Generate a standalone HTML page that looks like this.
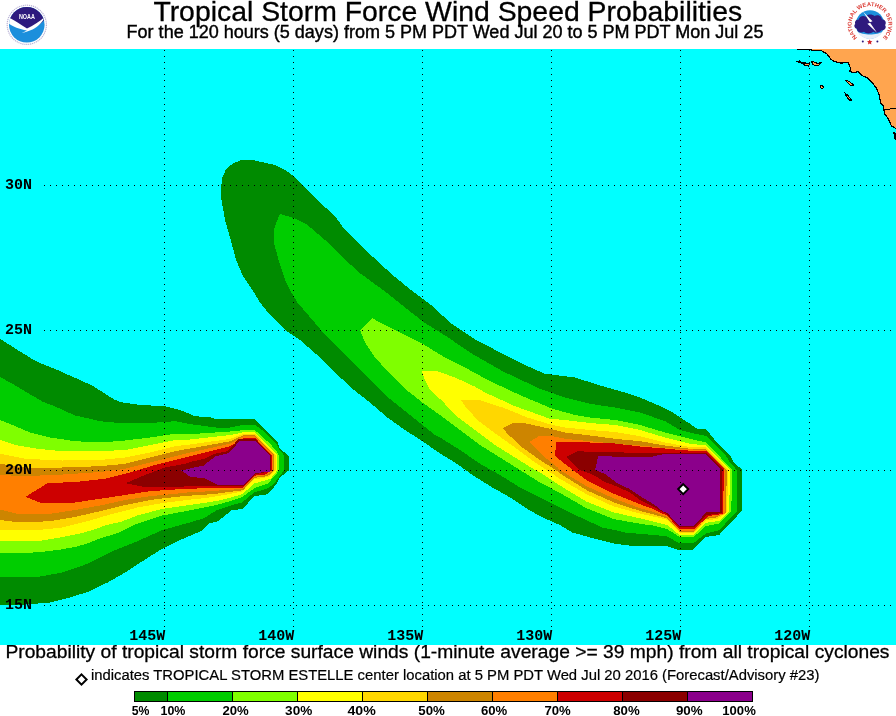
<!DOCTYPE html>
<html lang="en">
<head>
<meta charset="utf-8">
<title>Tropical Storm Force Wind Speed Probabilities</title>
<style>
html,body{margin:0;padding:0;background:#fff;}
body{width:896px;height:716px;position:relative;overflow:hidden;font-family:"Liberation Sans",sans-serif;color:#000;}
.t{position:absolute;white-space:nowrap;line-height:1;margin:0;}
.tx{font-family:"Liberation Sans",sans-serif;fill:#000;}
#g{position:absolute;left:0;top:0;}
.ax{font-family:"Liberation Mono",monospace;font-weight:bold;font-size:15px;}
.lg{font-family:"Liberation Sans",sans-serif;font-weight:bold;font-size:12px;}
</style>
</head>
<body>
<svg id="g" width="896" height="716" viewBox="0 0 896 716">
<text class="tx" x="153.4" y="20.9" font-size="28.38" stroke="#000" stroke-width="0.3">Tropical Storm Force Wind Speed Probabilities</text>
<text class="tx" x="126.6" y="37.9" font-size="18.03" stroke="#000" stroke-width="0.4">For the 120 hours (5 days) from 5 PM PDT Wed Jul 20 to 5 PM PDT Mon Jul 25</text>
<text class="tx" x="5.4" y="658" font-size="19.24" stroke="#000" stroke-width="0.3">Probability of tropical storm force surface winds (1-minute average &gt;= 39 mph) from all tropical cyclones</text>
<text class="tx" x="90.9" y="679.9" font-size="14.83" stroke="#000" stroke-width="0.2">indicates TROPICAL STORM ESTELLE center location at 5 PM PDT Wed Jul 20 2016 (Forecast/Advisory #23)</text>
<rect x="0" y="49" width="896" height="596" fill="#00FFFF" shape-rendering="crispEdges"/>
<clipPath id="mapclip"><rect x="0" y="49" width="896" height="596"/></clipPath>
<g shape-rendering="crispEdges" clip-path="url(#mapclip)">
<polygon fill="#008B00" points="-5.0,336.0 0.0,338.8 16.0,349.0 33.5,359.8 40.2,363.2 53.6,368.3 67.0,374.3 80.5,380.1 93.9,386.6 107.3,395.1 114.0,399.4 120.0,402.0 140.0,405.0 165.0,406.2 180.0,410.0 190.0,414.1 194.0,416.1 210.1,417.4 216.8,419.2 255.0,419.2 265.0,429.0 277.2,441.6 279.8,448.3 288.8,456.3 288.8,470.4 279.8,477.5 275.8,484.9 267.8,494.2 254.4,496.3 242.3,509.0 231.6,510.3 218.2,521.1 208.8,523.7 202.1,530.5 190.0,535.8 180.0,540.0 160.0,550.0 142.5,561.2 125.0,572.5 107.5,582.5 90.0,591.2 70.0,597.5 50.0,602.5 25.0,604.5 -5.0,604.5"/>
<polygon fill="#00CD00" points="-5.0,374.5 0.0,377.0 13.4,384.4 26.8,392.4 42.9,401.8 53.6,405.8 75.0,415.5 80.0,416.5 100.0,421.2 120.0,423.0 150.0,423.0 175.0,421.2 190.0,424.1 216.0,427.5 230.2,427.5 243.6,424.8 255.0,424.8 265.1,432.2 275.8,442.9 278.5,448.3 283.9,455.0 283.9,470.4 279.2,476.8 273.1,484.9 266.4,488.9 254.4,492.2 242.3,502.3 230.2,505.6 216.8,510.3 203.4,518.4 190.0,522.4 162.5,530.0 137.5,541.2 112.5,551.2 87.5,563.8 62.5,572.5 37.5,577.0 -5.0,577.0"/>
<polygon fill="#7FFF00" points="-5.0,418.0 0.0,420.0 12.5,425.0 30.0,432.5 50.0,437.5 75.0,441.2 100.0,442.5 125.0,440.5 150.0,437.5 175.0,433.8 190.0,434.2 230.2,431.5 243.6,430.2 255.0,430.2 270.5,444.2 277.2,452.3 279.2,456.3 279.2,470.4 274.5,476.1 267.8,483.5 254.4,488.2 242.3,496.9 230.2,501.0 216.8,505.0 203.4,507.7 190.0,510.3 162.5,515.5 137.5,523.5 120.0,532.2 114.0,534.2 100.6,538.2 87.2,543.6 75.1,546.9 60.3,549.6 44.2,551.6 22.8,553.4 -5.0,553.4"/>
<polygon fill="#FFFF00" points="-5.0,438.0 0.0,440.0 15.0,445.0 37.5,448.8 62.5,451.2 100.0,451.2 125.0,450.0 150.0,445.0 175.0,440.0 190.0,439.5 230.2,435.1 243.6,432.2 255.0,432.2 275.8,453.0 277.4,456.3 277.4,470.4 270.5,478.8 254.4,483.5 242.3,494.2 230.2,497.6 216.8,501.0 203.4,503.0 190.0,505.0 162.5,508.8 137.5,515.5 120.0,522.1 107.3,524.8 93.9,529.5 80.5,533.5 69.7,535.5 56.3,538.2 41.6,540.6 -5.0,540.6"/>
<polygon fill="#FFD700" points="-5.0,452.0 0.0,453.8 25.0,458.8 62.5,460.5 100.0,460.0 125.0,457.5 150.0,452.5 175.0,446.2 190.0,444.5 230.2,438.9 243.6,433.8 255.0,433.8 275.5,455.0 275.5,470.4 269.1,476.8 254.4,479.5 242.3,491.6 216.8,496.3 203.4,498.3 190.0,499.6 162.5,503.0 137.5,507.5 112.5,513.8 87.5,521.2 62.5,527.5 37.5,530.0 -5.0,530.5"/>
<polygon fill="#CD8500" points="-5.0,462.5 0.0,463.8 25.0,467.5 62.5,467.5 100.0,466.2 125.0,463.8 150.0,457.5 175.0,451.2 190.0,448.5 230.2,441.3 243.6,435.1 255.0,435.1 274.2,455.0 274.2,470.4 267.8,476.1 254.4,477.9 243.0,490.2 216.8,493.6 203.4,494.9 190.0,495.6 175.0,497.0 150.0,500.0 125.0,505.0 100.0,511.2 75.0,517.0 50.0,521.2 20.0,522.5 0.0,520.0 -5.0,519.5"/>
<polygon fill="#FF7F00" points="-5.0,475.0 0.0,475.0 25.0,476.2 62.5,474.5 100.0,472.0 125.0,468.8 150.0,462.5 175.0,456.2 190.0,452.5 230.2,443.6 243.6,436.2 255.0,436.2 273.4,455.2 273.4,470.4 266.0,475.3 254.4,476.8 243.0,488.9 203.4,491.6 190.0,492.2 175.0,493.8 150.0,496.2 125.0,500.0 100.0,505.5 75.0,510.0 50.0,513.8 20.0,514.5 0.0,509.5 -5.0,508.0"/>
<polygon fill="#CD0000" points="25.5,496.8 47.5,483.2 75.0,482.0 105.0,478.8 130.0,472.5 155.0,465.0 180.0,458.8 190.0,456.3 205.0,452.5 230.2,446.3 243.6,437.9 255.0,437.9 272.0,455.4 272.0,470.4 265.0,474.5 254.4,475.7 243.0,487.5 203.4,488.2 190.0,488.9 175.0,489.5 150.0,491.2 125.0,495.0 100.0,498.8 75.0,502.5 40.0,502.5"/>
<polygon fill="#8B0000" points="125.8,483.2 140.0,477.0 155.0,471.2 165.0,467.5 185.0,463.8 190.0,462.0 203.4,459.0 215.5,453.6 228.0,451.0 238.5,438.9 255.0,438.9 271.1,455.5 271.1,471.0 255.0,474.4 243.0,486.2 190.0,486.2 175.0,487.0 145.0,487.0"/>
<polygon fill="#8B008B" points="181.5,470.5 190.0,468.4 203.4,465.7 215.5,456.3 228.9,453.0 239.6,440.9 255.0,440.9 269.8,455.6 269.8,471.7 255.0,473.1 243.0,485.1 218.2,485.1 210.1,480.8 203.4,477.8 196.7,477.5 190.0,476.8"/>
<polygon fill="#008B00" points="241.2,160.0 255.0,160.5 275.0,165.0 285.0,170.0 293.8,176.2 302.5,185.0 320.0,202.5 335.0,216.2 345.0,230.0 360.0,245.0 375.0,258.8 392.5,275.0 411.0,290.0 432.5,306.2 450.0,322.5 474.0,338.8 505.0,355.0 525.0,365.0 545.0,373.8 575.0,377.5 602.5,386.2 625.0,392.5 640.0,397.5 657.5,405.0 672.5,412.5 690.0,423.8 697.5,429.2 706.2,429.2 715.0,440.2 725.8,451.6 731.2,457.0 733.9,462.3 741.9,469.7 741.9,510.8 719.1,535.0 705.7,537.0 693.0,549.5 677.5,549.5 666.8,546.0 653.4,546.0 635.0,546.2 615.0,543.8 590.0,537.5 572.5,532.5 560.0,525.1 540.0,516.2 525.0,507.5 510.0,497.5 492.5,487.5 472.5,475.0 455.0,462.5 440.0,453.5 422.5,441.2 405.0,430.0 387.5,417.5 370.0,402.5 352.5,388.8 335.0,372.5 320.0,357.5 300.0,340.0 285.0,330.0 270.0,315.0 260.0,302.5 252.5,290.0 242.5,275.0 236.2,260.0 230.0,237.5 225.0,220.0 221.5,200.0 221.0,187.5 222.5,177.5 226.2,168.8 232.5,163.8"/>
<polygon fill="#00CD00" points="280.0,214.0 293.8,218.0 307.5,225.0 325.0,240.0 340.0,255.0 360.0,273.2 375.0,284.2 385.0,291.5 405.0,307.5 425.0,323.0 447.5,337.0 470.0,352.5 502.5,371.2 540.0,388.8 565.0,397.5 590.0,403.8 615.0,407.5 640.0,412.5 665.0,421.2 680.0,430.0 693.6,433.5 707.0,436.0 715.0,444.9 725.8,455.6 730.0,462.5 736.8,470.0 736.8,511.5 719.1,530.3 705.7,533.6 693.6,543.0 678.9,543.0 666.8,536.3 653.4,535.0 640.4,533.9 625.0,532.5 613.6,529.8 602.5,527.5 586.8,520.5 560.0,507.7 540.0,497.5 520.0,487.5 500.0,475.0 480.0,463.8 460.0,450.0 440.0,437.5 435.0,435.0 410.0,415.0 385.0,395.0 367.5,377.5 347.5,357.5 325.0,335.0 312.5,320.0 297.5,302.5 290.0,290.0 286.2,282.5 280.0,265.0 274.5,245.0 274.0,230.0 276.2,222.5"/>
<polygon fill="#7FFF00" points="360.0,330.0 372.0,318.0 380.0,322.5 395.0,330.0 422.5,343.8 445.0,357.5 465.0,367.5 490.0,381.2 522.5,396.2 552.5,408.8 575.0,415.0 590.0,417.5 615.0,420.0 640.0,425.0 665.0,432.5 690.0,438.8 706.2,442.5 732.5,470.0 731.2,511.5 719.1,523.6 706.0,526.0 693.6,537.0 679.6,537.0 667.3,529.2 653.4,525.6 640.4,523.8 613.6,519.1 586.8,508.4 560.0,493.0 540.0,482.5 520.0,470.0 500.0,457.5 480.0,445.0 460.0,430.0 440.0,415.0 422.5,402.5 405.0,388.8 388.8,372.5 375.0,357.5 365.0,342.5"/>
<polygon fill="#FFFF00" points="422.0,371.2 437.5,371.2 455.0,377.5 474.0,386.2 485.0,392.5 515.0,406.2 550.0,418.8 565.0,420.0 590.0,423.0 615.0,425.0 640.0,430.0 665.0,437.5 690.0,443.8 706.2,445.5 730.0,470.0 729.2,511.5 719.1,520.9 705.7,522.9 693.6,535.0 679.6,535.0 667.3,525.1 653.4,521.6 640.4,518.4 613.6,512.4 586.8,501.7 560.0,485.6 540.0,472.5 535.0,470.0 515.0,457.5 495.0,445.0 475.0,430.0 455.0,415.0 442.5,401.2 430.0,390.0 425.0,380.0"/>
<polygon fill="#FFD700" points="460.5,399.5 477.5,399.5 502.5,407.5 527.5,417.5 552.5,425.0 565.0,427.5 590.0,430.0 615.0,432.0 640.0,436.2 665.0,442.5 690.0,447.0 706.2,447.5 728.0,470.0 727.2,512.0 717.0,519.0 705.7,520.5 693.6,532.8 680.0,532.8 667.3,519.8 653.4,516.5 640.4,513.7 613.6,506.4 586.8,494.3 560.0,478.9 552.5,473.8 535.0,462.5 515.0,447.5 497.5,435.0 477.5,420.0 465.0,406.2"/>
<polygon fill="#CD8500" points="502.5,428.0 512.5,423.2 525.0,423.2 550.0,428.8 565.0,432.5 590.0,435.5 615.0,438.8 640.0,441.2 665.0,445.5 690.0,448.8 706.2,449.2 726.8,470.0 726.0,513.0 716.0,517.5 705.7,519.0 694.0,531.5 679.5,531.5 667.3,518.4 653.4,514.3 640.4,511.1 613.6,502.3 586.8,490.3 560.0,473.5 557.5,471.2 540.0,460.0 522.5,447.5 507.5,433.8"/>
<polygon fill="#FF7F00" points="529.5,442.0 538.8,436.2 552.5,436.2 565.0,438.8 590.0,441.2 615.0,443.8 640.0,445.5 665.0,448.0 706.2,450.2 725.5,470.0 725.0,514.0 715.0,516.5 706.0,517.5 695.5,530.5 678.8,530.5 667.3,517.1 653.4,511.8 640.4,508.4 613.6,498.3 586.8,486.3 560.0,470.2 557.5,467.5 545.0,457.5 535.0,447.5"/>
<polygon fill="#CD0000" points="556.2,442.0 577.5,442.0 613.6,443.4 640.0,446.5 667.3,448.7 682.5,450.3 706.2,451.2 723.8,468.8 723.2,513.8 708.0,516.2 695.0,528.8 679.0,528.8 667.3,515.8 653.4,509.2 640.4,504.4 613.6,493.6 586.8,480.2 573.4,470.5 560.0,460.1 555.0,455.0"/>
<polygon fill="#8B0000" points="566.0,456.8 577.4,451.4 615.0,452.0 627.0,452.7 640.0,453.0 667.3,452.7 705.5,452.5 722.5,469.5 721.8,513.0 707.0,515.0 694.5,527.0 679.5,527.0 667.3,514.4 653.9,507.0 640.4,500.3 629.7,492.3 617.7,486.9 604.2,481.6 593.5,474.9 580.1,470.2 573.4,464.1"/>
<polygon fill="#8B008B" points="598.2,456.1 635.1,457.2 648.5,457.4 661.9,454.5 680.0,454.0 705.7,454.0 720.5,469.5 720.2,512.2 706.4,512.2 693.6,526.3 679.6,526.3 667.3,513.1 663.2,511.7 653.9,504.4 640.4,496.3 629.7,489.0 617.7,483.6 604.2,473.5 595.1,470.2"/>
<polygon fill="#FFA54F" points="797.0,49.4 809.5,49.7 814.9,50.7 821.6,50.7 827.0,54.1 831.0,59.4 835.0,61.7 840.4,63.1 848.4,62.5 850.4,68.2 849.7,71.5 853.8,72.9 857.8,71.5 863.2,76.2 867.2,77.5 872.5,82.9 876.6,88.3 879.2,95.0 880.6,103.0 883.3,105.7 883.9,109.7 884.6,113.7 888.6,119.1 891.3,125.8 896.0,128.5 900.0,128.5 900.0,40.0 797.0,40.0"/>
<polyline fill="none" stroke="#000" stroke-width="1.2" points="797.0,49.4 809.5,49.7 814.9,50.7 821.6,50.7 827.0,54.1 831.0,59.4 835.0,61.7 840.4,63.1 848.4,62.5 850.4,68.2 849.7,71.5 853.8,72.9 857.8,71.5 863.2,76.2 867.2,77.5 872.5,82.9 876.6,88.3 879.2,95.0 880.6,103.0 883.3,105.7 883.9,109.7 884.6,113.7 888.6,119.1 891.3,125.8 896.0,128.5"/>
<polyline fill="none" stroke="#000" stroke-width="1" points="884,109.5 890,109 896,108.5"/>
<path d="M893,132 L896,133 L896,140 L894.5,139 Z" fill="#000"/>
<g fill="#FFA54F" stroke="#000" stroke-width="1.1">
<path d="M797.5,61.5 L799.5,62.5 L803,63.5 L805,65.5 L808.5,66 L809.5,64 L806,63 L802,63 L799.5,61 Z"/>
<path d="M811.5,61.5 L814,62 L818,63.5 L821.5,62.5 L819,65 L815,65.5 L813,64.5 Z"/>
<path d="M820.3,86 L822,85 L823.6,87.3 L822.3,88.6 L820.6,87.8 Z"/>
<path d="M845.5,80 L849,81.5 L852,83.5 L853.8,85.6 L850,85 L847.5,82.5 Z"/>
<path d="M845.3,93.5 L847,94.5 L849.5,97.5 L851.8,100.6 L849.5,100 L846.5,96.5 Z"/>
</g>
<line x1="44" y1="185.5" x2="892" y2="185.5" stroke="#000" stroke-width="1" stroke-dasharray="1 5"/>
<line x1="44" y1="330.5" x2="892" y2="330.5" stroke="#000" stroke-width="1" stroke-dasharray="1 5"/>
<line x1="44" y1="470.5" x2="892" y2="470.5" stroke="#000" stroke-width="1" stroke-dasharray="1 5"/>
<line x1="44" y1="605.5" x2="892" y2="605.5" stroke="#000" stroke-width="1" stroke-dasharray="1 5"/>
<line x1="164.5" y1="50" x2="164.5" y2="627" stroke="#000" stroke-width="1" stroke-dasharray="1 5"/>
<line x1="293.5" y1="50" x2="293.5" y2="627" stroke="#000" stroke-width="1" stroke-dasharray="1 5"/>
<line x1="422.5" y1="50" x2="422.5" y2="627" stroke="#000" stroke-width="1" stroke-dasharray="1 5"/>
<line x1="551.5" y1="50" x2="551.5" y2="627" stroke="#000" stroke-width="1" stroke-dasharray="1 5"/>
<line x1="680.5" y1="50" x2="680.5" y2="627" stroke="#000" stroke-width="1" stroke-dasharray="1 5"/>
<line x1="809.5" y1="50" x2="809.5" y2="627" stroke="#000" stroke-width="1" stroke-dasharray="1 5"/>
</g>
<polygon points="683.2,484.1 688.2,489.1 683.2,494.1 678.2,489.1" fill="#fff" stroke="#000" stroke-width="2.0"/>
<polygon points="81.5,674.4 86.6,679.5 81.5,684.6 76.4,679.5" fill="#fff" stroke="#000" stroke-width="2"/>
<text class="ax" x="5.0" y="189">30N</text>
<text class="ax" x="5.0" y="334">25N</text>
<text class="ax" x="5.0" y="474">20N</text>
<text class="ax" x="5.0" y="609">15N</text>
<text class="ax" x="165.2" y="640" text-anchor="end">145W</text>
<text class="ax" x="294.2" y="640" text-anchor="end">140W</text>
<text class="ax" x="423.2" y="640" text-anchor="end">135W</text>
<text class="ax" x="552.2" y="640" text-anchor="end">130W</text>
<text class="ax" x="681.2" y="640" text-anchor="end">125W</text>
<text class="ax" x="810.2" y="640" text-anchor="end">120W</text>
<g shape-rendering="crispEdges">
<rect x="134" y="691" width="619" height="11" fill="#000"/>
<rect x="135" y="692" width="32" height="9" fill="#008B00"/>
<rect x="168" y="692" width="64" height="9" fill="#00CD00"/>
<rect x="233" y="692" width="64" height="9" fill="#7FFF00"/>
<rect x="298" y="692" width="64" height="9" fill="#FFFF00"/>
<rect x="363" y="692" width="64" height="9" fill="#FFD700"/>
<rect x="428" y="692" width="64" height="9" fill="#CD8500"/>
<rect x="493" y="692" width="64" height="9" fill="#FF7F00"/>
<rect x="558" y="692" width="64" height="9" fill="#CD0000"/>
<rect x="623" y="692" width="64" height="9" fill="#8B0000"/>
<rect x="688" y="692" width="64" height="9" fill="#8B008B"/>
</g>
<text class="lg" x="131.8" y="714.8" textLength="17.7" lengthAdjust="spacingAndGlyphs">5%</text>
<text class="lg" x="160.5" y="714.8" textLength="24.9" lengthAdjust="spacingAndGlyphs">10%</text>
<text class="lg" x="222.4" y="714.8" textLength="26.3" lengthAdjust="spacingAndGlyphs">20%</text>
<text class="lg" x="285.1" y="714.8" textLength="27.2" lengthAdjust="spacingAndGlyphs">30%</text>
<text class="lg" x="347.5" y="714.8" textLength="28.3" lengthAdjust="spacingAndGlyphs">40%</text>
<text class="lg" x="418.3" y="714.8" textLength="26.6" lengthAdjust="spacingAndGlyphs">50%</text>
<text class="lg" x="481.0" y="714.8" textLength="26.3" lengthAdjust="spacingAndGlyphs">60%</text>
<text class="lg" x="544.4" y="714.8" textLength="26.3" lengthAdjust="spacingAndGlyphs">70%</text>
<text class="lg" x="613.2" y="714.8" textLength="26.5" lengthAdjust="spacingAndGlyphs">80%</text>
<text class="lg" x="675.9" y="714.8" textLength="26.8" lengthAdjust="spacingAndGlyphs">90%</text>
<text class="lg" x="722.3" y="714.8" textLength="33.5" lengthAdjust="spacingAndGlyphs">100%</text>
</svg>
<svg style="position:absolute;left:0;top:0" width="60" height="49" viewBox="0 0 60 49">
<circle cx="26.8" cy="24.8" r="19.6" fill="#fff" stroke="#b9b3d6" stroke-width="1.2" stroke-dasharray="1.2 0.8"/>
<clipPath id="nc"><circle cx="26.8" cy="24.8" r="17.8"/></clipPath>
<g clip-path="url(#nc)">
<rect x="8" y="6" width="38" height="38" fill="#1C8FDC"/>
<path d="M8,6 H46 V18 C40,25 33,29 27,30.5 C20,28 14,23 8,17 Z" fill="#2E1A7E"/>
<path transform="translate(0 0.7)" d="M8,16.2 C14,19 21,24 27,27.8 C33,25 39,21 44.8,16.2 C43,21.5 36,27.5 30.5,29.6 C28,30.8 25,31.6 21.5,32.3 C24.5,31 26,30.3 26.8,29.8 C19,28.8 11.5,25.5 8.2,22.5 Z" fill="#fff"/>
</g>
<text x="26.9" y="19" font-family="Liberation Sans, sans-serif" font-weight="bold" font-size="6.6" fill="#fff" text-anchor="middle" textLength="16" lengthAdjust="spacingAndGlyphs">NOAA</text>
</svg>
<svg style="position:absolute;left:840px;top:0" width="56" height="49" viewBox="840 0 56 49">
<defs><path id="arc" d="M857.5,37.9 A18.4,18.4 0 1 1 882.5,37.9"/></defs>
<text font-family="Liberation Sans, sans-serif" font-weight="bold" font-size="5.6" fill="#DB3A33"><textPath href="#arc" startOffset="50%" text-anchor="middle" textLength="87" lengthAdjust="spacingAndGlyphs">NATIONAL WEATHER SERVICE</textPath></text>
<circle cx="870" cy="24.4" r="14.2" fill="#1C8FDC"/>
<path d="M857.5,31.5 A14.2,14.2 0 0 0 882.5,31.5 C878,35.5 862,35.5 857.5,31.5 Z" fill="#e8eef8"/>
<path transform="translate(870 24.5) scale(1.09 1.05) translate(-870 -24.5)" d="M856.5,24 C855.5,21.5 857.5,19.5 859.5,20 C860,17 863.5,15.5 866,17 C868,14.5 872,14.5 874,16.5 C877,14.5 881,16.5 880.8,19.5 C884,19.5 885.5,23 883.8,25 C885.5,27.5 883.5,30.5 880.5,30 C879,32.5 875,33 873,31.5 C870.5,33.5 866.5,33.5 864.5,31.5 C861.5,33 858,31.5 858,28.5 C855.5,28 855,25 856.5,24 Z" fill="#2E1A7E"/>
<path d="M863,11.5 L872.5,21.3 L869.8,22.2 L877,32.8 L867.4,23.8 L870.2,22.8 Z" fill="#fff"/>
<path d="M869.7,39.4 l0.8,1.7 1.9,0.2 -1.4,1.3 0.4,1.9 -1.7,-1 -1.7,1 0.4,-1.9 -1.4,-1.3 1.9,-0.2 Z" fill="#D2232A"/>
<circle cx="862.8" cy="41.5" r="1" fill="#2E1A7E"/>
<circle cx="877.4" cy="41.5" r="1" fill="#2E1A7E"/>
</svg>
</body>
</html>
